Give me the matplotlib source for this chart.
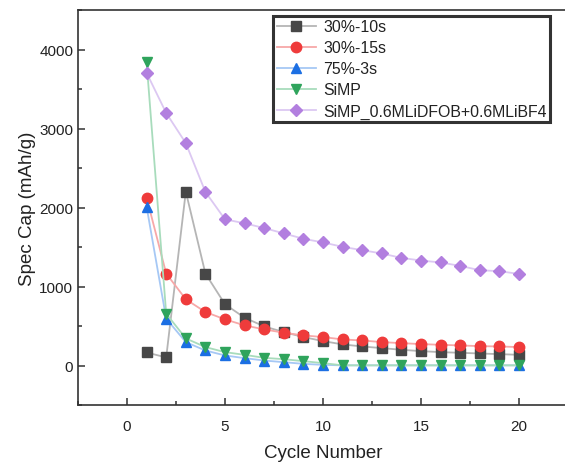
import numpy as np
import matplotlib.pyplot as plt
from matplotlib.ticker import MultipleLocator

plt.rcParams['font.family'] = ['Liberation Sans', 'DejaVu Sans']

cycles = list(range(1, 21))

cap_30_10 = [165, 102, 2201, 1164, 775, 605, 495, 423, 360, 309,
             267, 241, 220, 199, 182, 169, 161, 152, 144, 135]
cap_30_15 = [2125, 1164, 838, 677, 584, 508, 457, 415, 381, 360,
             330, 317, 296, 283, 271, 262, 254, 245, 241, 233]
cap_75_3 = [2010, 593, 296, 190, 127, 93, 63, 42, 21, 8,
            2, 2, 2, 2, 2, 2, 2, 2, 2, 2]
cap_simp = [3839, 656, 343, 233, 169, 135, 97, 80, 55, 30,
            2, 2, 2, 2, 2, 2, 2, 2, 2, 2]
cap_simp_salt = [3704, 3196, 2815, 2197, 1850, 1800, 1740, 1672, 1604, 1558,
                 1502, 1460, 1418, 1362, 1329, 1304, 1261, 1206, 1194, 1159]

labels = ['30%-10s', '30%-15s', '75%-3s', 'SiMP', 'SiMP_0.6MLiDFOB+0.6MLiBF4']
series = [cap_30_10, cap_30_15, cap_75_3, cap_simp, cap_simp_salt]
markers = ['s', 'o', '^', 'v', 'D']
mcolors = ['#474747', '#ef3b3b', '#1c6fe3', '#2fa45c', '#b27fdf']
lcolors = ['#b5b5b5', '#f7a8a8', '#a6c8f5', '#a8dcbc', '#dcc8f2']
msizes = [6.5, 7.5, 7, 7, 6.5]

fig = plt.figure(figsize=(5.65, 4.64), dpi=100)
ax = fig.add_axes([78 / 565, 58 / 464, 490 / 565, 395 / 464])

for y, lab, m, mc, lc, ms in zip(series, labels, markers, mcolors, lcolors, msizes):
    ax.plot(cycles, y, color=lc, lw=1.3, marker=m, markersize=ms,
            markerfacecolor=mc, markeredgecolor=mc, label=lab)

ax.set_xlim(-2.5, 22.5)
ax.set_ylim(-500, 4500)
ax.xaxis.set_major_locator(MultipleLocator(5))
ax.xaxis.set_minor_locator(MultipleLocator(2.5))
ax.yaxis.set_major_locator(MultipleLocator(1000))
ax.yaxis.set_minor_locator(MultipleLocator(500))
ax.tick_params(which='both', direction='in', labelsize=11, colors='#333333',
               labelcolor='#222222')
ax.tick_params(which='major', length=5, width=1.1)
ax.tick_params(which='minor', length=3, width=1.1)
ax.tick_params(axis='x', pad=10)
for s in ax.spines.values():
    s.set_linewidth(1.2)
    s.set_color('#333333')
ax.spines['right'].set_visible(False)

ax.set_xlabel('Cycle Number', fontsize=13.5, labelpad=8, color='#222222')
ax.set_ylabel('Spec Cap (mAh/g)', fontsize=13.5, labelpad=2, color='#222222')

leg = ax.legend(loc='upper left', bbox_to_anchor=(0.398, 0.985), fontsize=11.4,
                frameon=True, fancybox=False, edgecolor='black',
                borderpad=0.22, labelspacing=0.38, handlelength=2.5,
                handletextpad=0.45, borderaxespad=0)
leg.get_frame().set_linewidth(2.2)
for t in leg.get_texts():
    t.set_color('#222222')

fig.savefig('out.png', dpi=100)
